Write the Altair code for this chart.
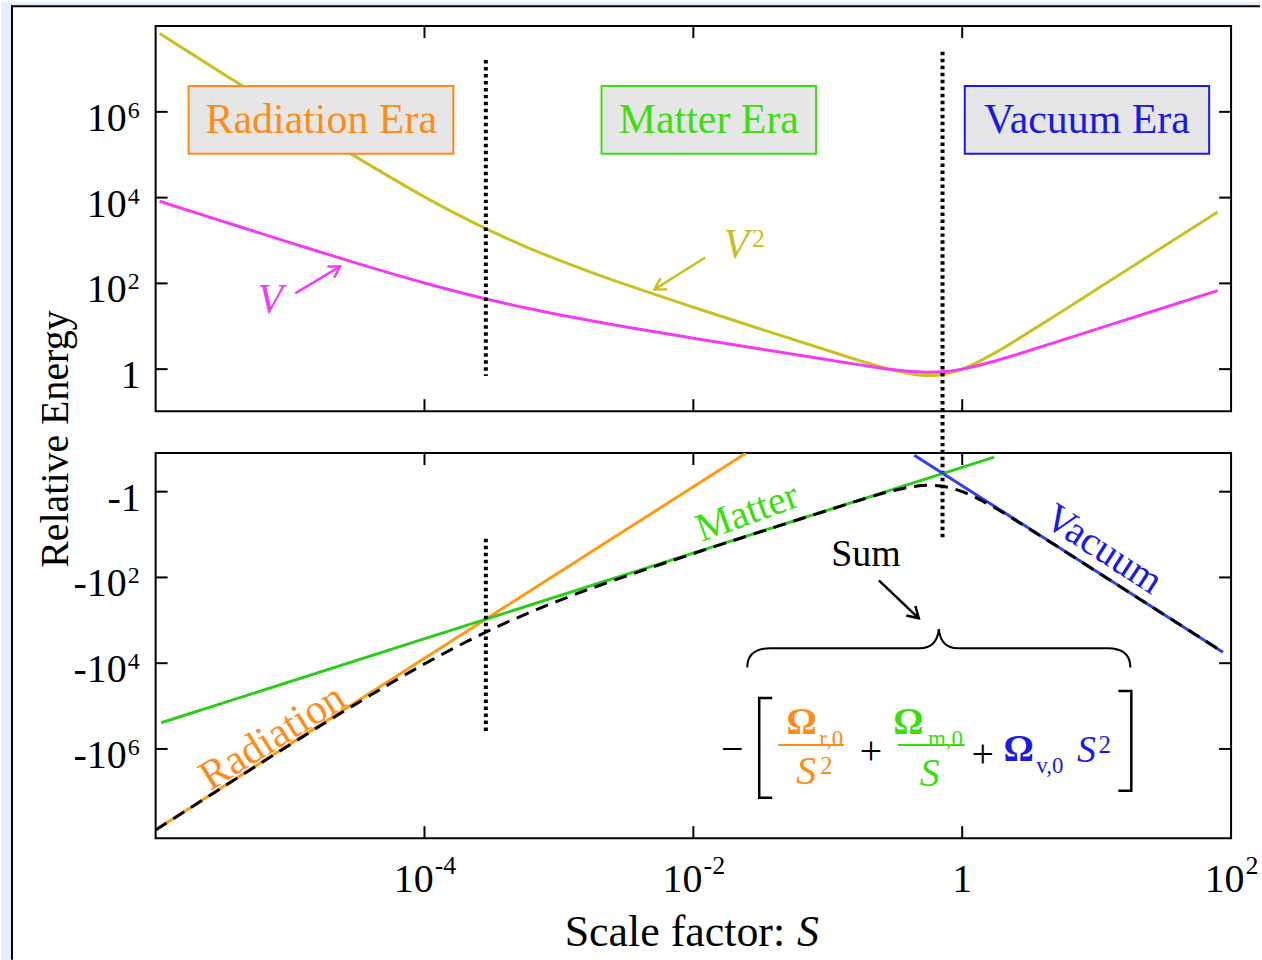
import altair as alt
import pandas as pd

# ---------------- data ----------------
s_top = [1.07e-6, 3.16e-6, 1.0e-5, 3.16e-5, 1.0e-4, 1.78e-4, 3.16e-4, 5.62e-4, 1.0e-3, 1.78e-3,
         3.16e-3, 1.0e-2, 3.16e-2, 0.1, 0.178, 0.316, 0.422, 0.562, 0.75, 1.0,
         1.78, 3.16, 5.62, 10.0, 31.6, 79.4]
v2_top = [6.73e7, 7.79e6, 7.97e5, 8.55e4, 1.04e4, 3954, 1624, 724, 347, 176,
          93.1, 27.8, 8.62, 2.72, 1.54, 0.928, 0.771, 0.711, 0.771, 1.00,
          2.46, 7.39, 23.1, 73.0, 730, 4606]
v_top = [8205, 2790, 893, 292, 102, 62.9, 40.3, 26.9, 18.6, 13.3,
         9.65, 5.27, 2.94, 1.65, 1.24, 0.963, 0.878, 0.843, 0.878, 1.00,
         1.57, 2.72, 4.81, 8.55, 27.0, 67.9]

s_sum = [1.0e-6, 3.16e-6, 1.0e-5, 3.16e-5, 1.0e-4, 1.78e-4, 3.16e-4, 5.62e-4, 1.0e-3, 1.78e-3,
         3.16e-3, 1.0e-2, 3.16e-2, 0.1, 0.178, 0.316, 0.422, 0.562, 0.75, 1.0,
         1.78, 3.16, 5.62, 10.0, 31.6, 87.1]
sum_energy = [-7.73e7, -7.79e6, -7.97e5, -8.55e4, -1.04e4, -3954, -1624, -724, -347, -176,
              -93.1, -27.8, -8.62, -2.72, -1.54, -0.928, -0.771, -0.711, -0.771, -1.00,
              -2.46, -7.39, -23.1, -73.0, -730, -5538]

radiation_s = [1.0e-6, 0.0247]
radiation_energy = [-7.7e7, -0.126]
matter_s = [1.1e-6, 1.73]
matter_energy = [-2.45e5, -0.156]
vacuum_s = [0.44, 87.1]
vacuum_energy = [-0.141, -5538]

eq_radiation_matter = 2.86e-4
eq_matter_vacuum = 0.714

# tick labels: base text and superscript exponent
x_ticks = [1e-4, 1e-2, 1, 1e2]
x_tick_base = ["10", "10", "1", "10"]
x_tick_exp = ["-4", "-2", "", "2"]
y_ticks = [1, 1e2, 1e4, 1e6]
y_tick_base_top = ["1", "10", "10", "10"]
y_tick_base_bottom = ["-1", "-10", "-10", "-10"]
y_tick_exp = ["", "2", "4", "6"]
era_labels = ["Radiation Era", "Matter Era", "Vacuum Era"]

# ---------------- styles / layout ----------------
FONT = "Liberation Serif"
W, H = 1078, 386
LABEL_SIZE = 40
EXP_SIZE = 26
OLIVE = "#c9c022"
MAGENTA = "#f23cf2"
ORANGE = "#ff9a10"
ORANGE_T = "#ff8c1a"
GREEN = "#2ecc1a"
GREEN_T = "#3ddd10"
BLUE = "#3040ee"
BLUE_T = "#1a1ae6"
FRAME_BG = "#e5f0fb"

x_scale = alt.Scale(type="log", domain=[1e-6, 1e2])
y_top_scale = alt.Scale(type="log", domain=[10 ** -0.98, 1e8])
y_bot_scale = alt.Scale(type="log", domain=[10 ** -0.9, 10 ** 8.08], reverse=True)


def XS(field="S"):
    return alt.X(f"{field}:Q", scale=x_scale, axis=None)


def YT(field="E"):
    return alt.Y(f"{field}:Q", scale=y_top_scale, axis=None)


def YB(field="M"):
    return alt.Y(f"{field}:Q", scale=y_bot_scale, axis=None)


def one(**kw):
    return pd.DataFrame({k: [v] for k, v in kw.items()})


def text_at(s, y, txt, color, size, yenc, angle=0, style="normal", weight="normal",
            align="center", baseline="middle"):
    df = one(S=s, Y=y, t=txt)
    return alt.Chart(df).mark_text(
        font=FONT, fontSize=size, color=color, angle=angle, fontStyle=style,
        fontWeight=weight, align=align, baseline=baseline
    ).encode(x=XS(), y=yenc("Y"), text="t:N")


def arrow(s0, y0, s1, y1, color, ang, yenc):
    df = pd.DataFrame({"S": [s0, s1], "Y": [y0, y1], "o": [0, 1]})
    shaft = alt.Chart(df).mark_line(color=color, strokeWidth=2.5).encode(
        x=XS(), y=yenc("Y"), order="o:Q")
    head = alt.Chart(one(S=s1, Y=y1)).mark_point(
        shape="M -1 -0.6 L 0 0 L -1 0.6", size=484, filled=False, stroke=color,
        strokeWidth=2.5, opacity=1, angle=ang
    ).encode(x=XS(), y=yenc("Y"))
    return shaft + head


def P(v):
    return 10 ** v


def text_width(s, size):
    w = {"-": 0.333, "1": 0.5, "0": 0.5}
    return sum(w.get(c, 0.5) for c in s) * size


# ---------------- ticks and tick labels (drawn from the tick lists) ----------------
df_xt = pd.DataFrame({"S": x_ticks[:3]})
df_yt = pd.DataFrame({"E": y_ticks})


def ticks(yenc):
    tk = dict(color="black", strokeWidth=2)
    return [
        alt.Chart(df_xt).mark_rule(**tk).encode(x=XS(), y=alt.value(0), y2=alt.value(12)),
        alt.Chart(df_xt).mark_rule(**tk).encode(x=XS(), y=alt.value(H), y2=alt.value(H - 12)),
        alt.Chart(df_yt).mark_rule(**tk).encode(x=alt.value(0), x2=alt.value(12), y=yenc("E")),
        alt.Chart(df_yt).mark_rule(**tk).encode(x=alt.value(W), x2=alt.value(W - 12), y=yenc("E")),
    ]


def y_labels(bases, yenc):
    layers = []
    for v, b, e in zip(y_ticks, bases, y_tick_exp):
        d = one(E=v, t=b)
        if e:
            layers.append(alt.Chart(d).mark_text(
                font=FONT, fontSize=LABEL_SIZE, color="black", align="right",
                baseline="middle", dy=7).encode(x=alt.value(-29), y=yenc("E"), text="t:N"))
            layers.append(alt.Chart(one(E=v, t=e)).mark_text(
                font=FONT, fontSize=EXP_SIZE - 2, color="black", align="left",
                baseline="middle", dy=-1).encode(x=alt.value(-28), y=yenc("E"), text="t:N"))
        else:
            layers.append(alt.Chart(d).mark_text(
                font=FONT, fontSize=LABEL_SIZE, color="black", align="right",
                baseline="middle", dy=7).encode(x=alt.value(-15), y=yenc("E"), text="t:N"))
    return layers


def x_labels():
    layers = []
    for v, b, e in zip(x_ticks, x_tick_base, x_tick_exp):
        wb = text_width(b, LABEL_SIZE)
        we = text_width(e, EXP_SIZE)
        left = -(wb + we) / 2
        layers.append(alt.Chart(one(S=v, t=b)).mark_text(
            font=FONT, fontSize=LABEL_SIZE, color="black", align="left", baseline="top",
            dx=left).encode(x=XS(), y=alt.value(H + 22), text="t:N"))
        if e:
            layers.append(alt.Chart(one(S=v, t=e)).mark_text(
                font=FONT, fontSize=EXP_SIZE, color="black", align="left", baseline="top",
                dx=left + wb + 1).encode(x=XS(), y=alt.value(H + 15), text="t:N"))
    return layers


# ---------------- page frame (light blue margin + black border) ----------------
strip_left = alt.Chart(one(a=0)).mark_rect(fill=FRAME_BG).encode(
    x=alt.value(-155), x2=alt.value(-144), y=alt.value(-24), y2=alt.value(936))
strip_top = alt.Chart(one(a=0)).mark_rect(fill=FRAME_BG).encode(
    x=alt.value(-155), x2=alt.value(1107), y=alt.value(-24), y2=alt.value(-20))
frame_l = alt.Chart(one(a=0)).mark_rule(color="black", strokeWidth=2).encode(
    x=alt.value(-144), y=alt.value(-21), y2=alt.value(936))
frame_t = alt.Chart(one(a=0)).mark_rule(color="black", strokeWidth=2).encode(
    x=alt.value(-145), x2=alt.value(1107), y=alt.value(-20))

# ---------------- top panel ----------------
df_top = pd.DataFrame({"S": s_top, "V2": v2_top, "V": v_top})
v2_line = alt.Chart(df_top).mark_line(color=OLIVE, strokeWidth=3, interpolate="monotone",
                                      clip=True).encode(x=XS(), y=YT("V2"))
v_line = alt.Chart(df_top).mark_line(color=MAGENTA, strokeWidth=3, interpolate="monotone",
                                     clip=True).encode(x=XS(), y=YT("V"))

dotted_top = alt.Chart(pd.DataFrame({
    "S": [eq_radiation_matter, eq_matter_vacuum],
    "E": [P(7.21), P(7.4)],
    "E2": [P(-0.16), P(-4.0)],
})).mark_rule(color="black", strokeWidth=4, strokeDash=[3.5, 3.5]).encode(
    x=XS(), y=YT("E"), y2="E2:Q")

era_colors = [ORANGE_T, GREEN_T, BLUE_T]
box_x1 = [P(-5.755), P(-2.683), P(0.019)]
box_x2 = [P(-3.785), P(-1.087), P(1.837)]
box_cx = [P(-4.768), P(-1.885), P(0.928)]
box_y1, box_y2, box_cy = P(6.60), P(5.02), P(5.80)

era_layers = []
for lab, col, a, b, c in zip(era_labels, era_colors, box_x1, box_x2, box_cx):
    era_layers.append(alt.Chart(one(S=a, S2=b, E=box_y1, E2=box_y2)).mark_rect(
        fill="#e6e6e6", stroke=col, strokeWidth=2).encode(
        x=XS(), x2="S2:Q", y=YT(), y2="E2:Q"))
    era_layers.append(text_at(c, box_cy, lab, col, 42, YT))

top_ann = [
    text_at(P(-1.681), P(2.884), "V", OLIVE, 42, YT, style="italic"),
    text_at(P(-1.515), P(3.023), "2", OLIVE, 26, YT),
    arrow(P(-1.911), P(2.605), P(-2.289), P(1.860), OLIVE, 149, YT),
    text_at(P(-5.147), P(1.605), "V", MAGENTA, 42, YT, style="italic"),
    arrow(P(-4.961), P(1.767), P(-4.627), P(2.395), MAGENTA, 329, YT),
]

y_title = alt.Chart(one(t="Relative Energy")).mark_text(
    font=FONT, fontSize=40, color="black", angle=270, align="center", baseline="middle"
).encode(x=alt.value(-100), y=alt.value(414), text="t:N")

top = alt.layer(
    strip_left, strip_top, frame_l, frame_t,
    v2_line, v_line, dotted_top, *era_layers, *top_ann, *ticks(YT),
    *y_labels(y_tick_base_top, YT), y_title
).properties(width=W, height=H)

# ---------------- bottom panel ----------------
def series(s, e):
    return alt.Chart(pd.DataFrame({"S": s, "energy": e})).transform_calculate(
        M="-datum.energy")


rad_line = series(radiation_s, radiation_energy).mark_line(
    color=ORANGE, strokeWidth=3, clip=True).encode(x=XS(), y=YB())
mat_line = series(matter_s, matter_energy).mark_line(
    color=GREEN, strokeWidth=3, clip=True).encode(x=XS(), y=YB())
vac_line = series(vacuum_s, vacuum_energy).mark_line(
    color=BLUE, strokeWidth=3, clip=True).encode(x=XS(), y=YB())
sum_line = series(s_sum, sum_energy).mark_line(
    color="black", strokeWidth=3, strokeDash=[13, 8], interpolate="monotone", clip=True
).encode(x=XS(), y=YB())

dotted_bot = alt.Chart(one(S=eq_radiation_matter, M=P(1.1), M2=P(5.58))).mark_rule(
    color="black", strokeWidth=4, strokeDash=[3.5, 3.5]).encode(x=XS(), y=YB(), y2="M2:Q")

brace = alt.Chart(one(S=P(-0.174), M=P(3.651))).mark_point(
    shape="M -1 0.1 Q -1 0 -0.88 0 L -0.1 0 Q -0.01 0 0 -0.1 Q 0.01 0 0.1 0 L 0.88 0 Q 1 0 1 0.1",
    size=147456, filled=False, stroke="black", strokeWidth=2, opacity=1
).encode(x=XS(), y=YB())
lbrack = alt.Chart(one(S=P(-1.510), M=P(5.977))).mark_point(
    shape="M 0.26 -1 L 0 -1 L 0 1 L 0.26 1", size=10000, filled=False, stroke="black",
    strokeWidth=2.5, opacity=1).encode(x=XS(), y=YB())
rbrack = alt.Chart(one(S=P(1.258), M=P(5.814))).mark_point(
    shape="M -0.26 -1 L 0 -1 L 0 1 L -0.26 1", size=10000, filled=False, stroke="black",
    strokeWidth=2.5, opacity=1).encode(x=XS(), y=YB())


def bar(s0, s1, m, color):
    return alt.Chart(one(S=s0, S2=s1, M=m)).mark_rule(color=color, strokeWidth=2).encode(
        x=XS(), x2="S2:Q", y=YB())


bot_ann = [
    text_at(P(-5.132), P(5.721), "Radiation", ORANGE_T, 42, YB, angle=328),
    text_at(P(-1.599), P(0.488), "Matter", GREEN_T, 40, YB, angle=340),
    text_at(P(1.050), P(1.349), "Vacuum", BLUE_T, 40, YB, angle=33),
    text_at(P(-0.716), P(1.488), "Sum", "black", 38, YB),
    arrow(P(-0.620), P(2.070), P(-0.323), P(2.953), "black", 43.5, YB),
    brace, lbrack, rbrack,
    text_at(P(-1.711), P(6.023), "−", "black", 40, YB),
    text_at(P(-1.195), P(5.395), "Ω", ORANGE_T, 38, YB, weight="bold"),
    text_at(P(-0.975), P(5.767), "r,0", ORANGE_T, 23, YB),
    bar(P(-1.369), P(-0.879), P(5.907), ORANGE_T),
    text_at(P(-1.161), P(6.535), "S", ORANGE_T, 40, YB, style="italic"),
    text_at(P(-1.010), P(6.395), "2", ORANGE_T, 25, YB),
    text_at(P(-0.679), P(6.070), "+", "black", 40, YB),
    text_at(P(-0.400), P(5.395), "Ω", GREEN_T, 38, YB, weight="bold"),
    text_at(P(-0.125), P(5.767), "m,0", GREEN_T, 23, YB),
    bar(P(-0.479), P(0.019), P(5.907), GREEN_T),
    text_at(P(-0.241), P(6.581), "S", GREEN_T, 40, YB, style="italic"),
    text_at(P(0.152), P(6.140), "+", "black", 40, YB),
    text_at(P(0.420), P(6.023), "Ω", BLUE_T, 38, YB, weight="bold"),
    text_at(P(0.652), P(6.395), "v,0", BLUE_T, 23, YB),
    text_at(P(0.924), P(6.047), "S", BLUE_T, 38, YB, style="italic"),
    text_at(P(1.060), P(5.907), "2", BLUE_T, 25, YB),
]

x_title = alt.layer(
    alt.Chart(one(t="Scale factor:")).mark_text(
        font=FONT, fontSize=44, color="black", align="right", baseline="alphabetic"
    ).encode(x=alt.value(631), y=alt.value(494), text="t:N"),
    alt.Chart(one(t="S")).mark_text(
        font=FONT, fontSize=44, color="black", align="left", baseline="alphabetic",
        fontStyle="italic"
    ).encode(x=alt.value(643), y=alt.value(494), text="t:N"),
)

bottom = alt.layer(
    rad_line, mat_line, vac_line, sum_line, dotted_bot, *bot_ann, *ticks(YB),
    *y_labels(y_tick_base_bottom, YB), *x_labels(), x_title
).properties(width=W, height=H)

chart = alt.vconcat(top, bottom, spacing=42, bounds="flush").properties(
    background="white",
    padding={"left": 0, "top": 0, "right": 0, "bottom": 0},
).configure_view(stroke="black", strokeWidth=2)

chart.save("out.html", embed_options={"renderer": "svg", "actions": False})
